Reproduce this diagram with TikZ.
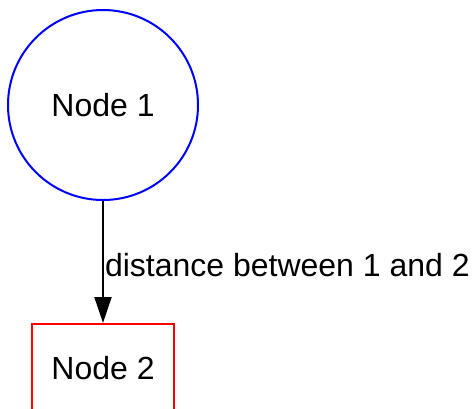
\documentclass[tikz,border=0pt]{standalone}
\usepackage{fontspec}
\setmainfont{Liberation Sans}
\usetikzlibrary{arrows.meta}
\begin{document}
\begin{tikzpicture}[x=1pt,y=-1pt,
  lbl/.style={font=\fontsize{32}{37}\selectfont},
  circnode/.style={circle,draw=blue,line width=2pt,minimum size=190pt,inner sep=0pt,lbl},
  boxnode/.style={rectangle,draw=red,line width=2pt,minimum width=142pt,minimum height=88pt,inner sep=0pt,lbl},
  conn/.style={line width=2pt,-{Triangle[length=26pt,width=17pt]}}]
\clip (0,0) rectangle (473,408);
\useasboundingbox (0,0) rectangle (473,408);
\node[circnode] (n1) at (103,105) {Node 1};
\node[boxnode] (n2) at (103,368) {Node 2};
\draw[conn] (n1.south) -- node[right,inner sep=0pt,xshift=1pt,yshift=-3pt,lbl] (e) {distance between 1 and 2} (n2.north);
\end{tikzpicture}
\end{document}
